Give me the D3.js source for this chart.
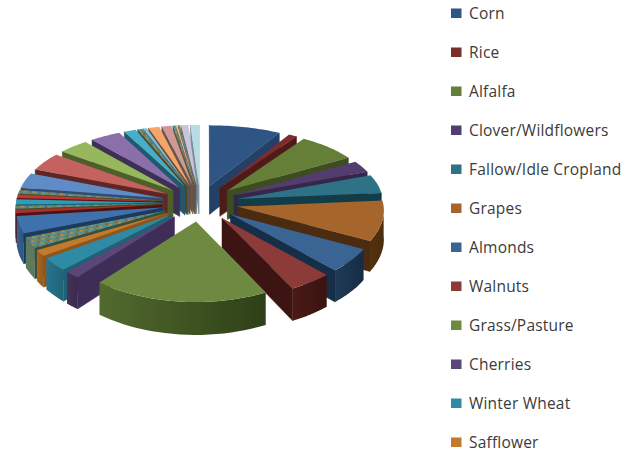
<!DOCTYPE html>
<html>
<head>
<meta charset="utf-8">
<script src="https://cdn.jsdelivr.net/npm/d3@7"></script>
<style>
  html, body { margin: 0; padding: 0; background: #fff; }
  svg { display: block; }
  text { font-family: "Open Sans", Lato, sans-serif; }
</style>
</head>
<body>
<svg id="chart" width="636" height="453"></svg>
<script>
// Acreage share of each crop, measured in degrees of the full circle.
const legendCrops = ["Corn", "Rice", "Alfalfa", "Clover/Wildflowers", "Fallow/Idle Cropland", "Grapes",
  "Almonds", "Walnuts", "Grass/Pasture", "Cherries", "Winter Wheat", "Safflower"];
const legendValues = [30, 3.5, 25.5, 10, 16, 33, 19, 16, 66, 5.5, 10.5, 5];
// Remaining minor crops, continuing clockwise past Safflower.
const minorValues = [9, 14, 3, 2.5, 4.5, 3, 3, 13, 16, 13, 13, 5, 2, 1.5, 4.5, 4, 1, 0.7, 0.8, 3, 3.5];

// Palette: [top face, outer wall left, outer wall right, cut face]
const legendPalette = [
  ["#2f5585", "#25436a", "#1c3452", "#234066"],
  ["#7c2d2b", "#5a1f1d", "#451614", "#4f1b19"],
  ["#667f38", "#4e6329", "#3a4a1d", "#3d4d20"],
  ["#533d70", "#3f2d57", "#2f2142", "#35264a"],
  ["#2d7286", "#1f5566", "#17404d", "#123c48"],
  ["#a6652b", "#54320f", "#4a2c10", "#4b2c10"],
  ["#3a6494", "#1f3a58", "#172c44", "#172e48"],
  ["#8c3b39", "#4a1a17", "#3a1310", "#3c1411"],
  ["#6e8a40", "#526a2e", "#2e3f17", "#3d3f18"],
  ["#5b4579", "#443258", "#3b2a4e", "#3e2d57"],
  ["#2f8aa6", "#26758e", "#206377", "#1f6176"],
  ["#c27a2c", "#a96522", "#95581d", "#8f5519"]
];
const minorPalette = [
  ["url(#speckle)", "#5e7a5e", "#5e7a5e", "#3a4f3a"],
  ["#3f72ad", "#356294", "#2d5681", "#1d3a5e"],
  ["#a8302c", "#7a2020", "#7a2020", "#4e1210"],
  ["url(#speckle)", "#7a7a3a", "#7a7a3a", "#4a4a22"],
  ["#2f9cba", "#2a8aa5", "#2a8aa5", "#1c6276"],
  ["#c23532", "#8f2523", "#8f2523", "#5a1412"],
  ["url(#speckle)", "#8a7a30", "#8a7a30", "#4e4a20"],
  ["#5f8cc6", "#4c76aa", "#4c76aa", "#2f4d75"],
  ["#c4625f", "#a14f4d", "#a14f4d", "#5e2725"],
  ["#97b75c", "#7e994d", "#7e994d", "#4f5f2a"],
  ["#8a6fab", "#735b90", "#735b90", "#3e2f55"],
  ["#44aecb", "#3a97b0", "#3a97b0", "#20596b"],
  ["url(#speckle)", "#a56a30", "#a56a30", "#5a4020"],
  ["#7cc0d8", "#6aa9bf", "#6aa9bf", "#3c6877"],
  ["#f5a56a", "#d98d56", "#d98d56", "#704a30"],
  ["#cf9895", "#b0807d", "#b0807d", "#6a5452"],
  ["url(#speckle)", "#8a8a60", "#8a8a60", "#58583c"],
  ["#f4b88a", "#d8a078", "#d8a078", "#7a604c"],
  ["url(#speckle)", "#8a8a60", "#8a8a60", "#58583c"],
  ["#cbc2dc", "#b0a8c0", "#b0a8c0", "#6d687a"],
  ["#b9dbe6", "#a0c0cb", "#a0c0cb", "#7a9099"]
];

const svg = d3.select("#chart");

// Woven texture used by the thin minor-crop slices.
const defs = svg.append("defs");
const weave = defs.append("pattern").attr("id", "speckle")
  .attr("patternUnits", "userSpaceOnUse").attr("width", 9).attr("height", 4)
  .attr("patternTransform", "rotate(12)");
weave.append("rect").attr("width", 9).attr("height", 4).attr("fill", "#4d8f9c");
weave.append("rect").attr("width", 3).attr("height", 2).attr("fill", "#b98a3c");
weave.append("rect").attr("x", 4).attr("y", 2).attr("width", 3).attr("height", 2).attr("fill", "#6d8b3e");
weave.append("rect").attr("x", 6).attr("width", 2).attr("height", 2).attr("fill", "#8a5a3a");

// Camera and pie proportions.
const centerX = 200, centerY = 203, tilt = 0.475, cameraDistance = 1550;
const radius = 146, explode = 38, thickness = 29;

function project(x, y, z) {
  const s = cameraDistance / (cameraDistance - y);
  const sx = 1 + (s - 1) * 0.45;   // the width foreshortens less than the depth
  return [centerX + x * sx, centerY + tilt * y * s - z * s];
}

const allValues = legendValues.concat(minorValues);
const allPalette = legendPalette.concat(minorPalette);
const arcs = d3.pie().sort(null).startAngle(0).endAngle(2 * Math.PI)(allValues)
  .map((a, i) => ({ ...a, colors: allPalette[i], index: i }));

const polar = (arc, angle, r, z) => {
  const mid = (arc.startAngle + arc.endAngle) / 2;
  const ox = explode * Math.sin(mid), oy = -explode * Math.cos(mid);
  return project(ox + r * Math.sin(angle), oy - r * Math.cos(angle), z);
};
const polygon = d3.line();

const layer = svg.append("g");
// Paint from the far side of the pie towards the viewer.
const ordered = arcs.slice().sort((a, b) =>
  Math.cos((b.startAngle + b.endAngle) / 2) - Math.cos((a.startAngle + a.endAngle) / 2));

ordered.forEach(arc => {
  const [top, wallL, wallR, cut] = arc.colors;
  const g = layer.append("g");

  // Radial cut faces, drawn only when they turn towards the camera.
  [[arc.startAngle, 1], [arc.endAngle, -1]].forEach(([angle, dir]) => {
    const quad = [polar(arc, angle, 0, 0), polar(arc, angle, radius, 0),
      polar(arc, angle, radius, -thickness), polar(arc, angle, 0, -thickness)];
    if (d3.polygonArea(quad) * dir > 0) {
      g.append("path").attr("d", polygon(quad) + "Z").attr("fill", cut)
        .attr("stroke", cut).attr("stroke-width", 0.5);
    }
  });

  // Curved outer wall on the near half, shaded from left to right.
  const wallStart = Math.max(arc.startAngle, Math.PI / 2);
  const wallEnd = Math.min(arc.endAngle, 3 * Math.PI / 2);
  if (wallEnd > wallStart) {
    const angles = d3.range(25).map(d3.scaleLinear().domain([0, 24]).range([wallStart, wallEnd]));
    const upper = angles.map(a => polar(arc, a, radius, 0));
    const lower = angles.map(a => polar(arc, a, radius, -thickness)).reverse();
    const xs = d3.extent(upper, p => p[0]);
    const id = `wall-${arc.index}`;
    const grad = defs.append("linearGradient").attr("id", id)
      .attr("gradientUnits", "userSpaceOnUse")
      .attr("x1", xs[0]).attr("x2", xs[1]).attr("y1", 0).attr("y2", 0);
    grad.append("stop").attr("offset", 0).attr("stop-color", wallL);
    grad.append("stop").attr("offset", 1).attr("stop-color", wallR);
    g.append("path").attr("d", polygon(upper.concat(lower)) + "Z").attr("fill", `url(#${id})`);
  }

  // Top face.
  const rim = d3.range(25).map(d3.scaleLinear().domain([0, 24]).range([arc.startAngle, arc.endAngle]))
    .map(a => polar(arc, a, radius, 0));
  g.append("path").attr("d", polygon([polar(arc, arc.startAngle, 0, 0), ...rim]) + "Z").attr("fill", top);
});

// Legend column: only the first twelve crops fit before the page ends.
const legendY = d3.scaleLinear().domain([0, legendCrops.length - 1]).range([13, 442]);
const legend = svg.append("g").selectAll("g").data(legendCrops).join("g")
  .attr("transform", (d, i) => `translate(0,${legendY(i)})`);
legend.append("rect").attr("x", 451).attr("y", -4.5).attr("width", 10.5).attr("height", 9.5)
  .attr("fill", (d, i) => legendPalette[i][0]);
legend.append("text").attr("x", 469).attr("y", 6)
  .attr("font-size", 15.5).attr("letter-spacing", 0.2).attr("fill", "#3b3b3b")
  .text(d => d);
</script>
</body>
</html>
